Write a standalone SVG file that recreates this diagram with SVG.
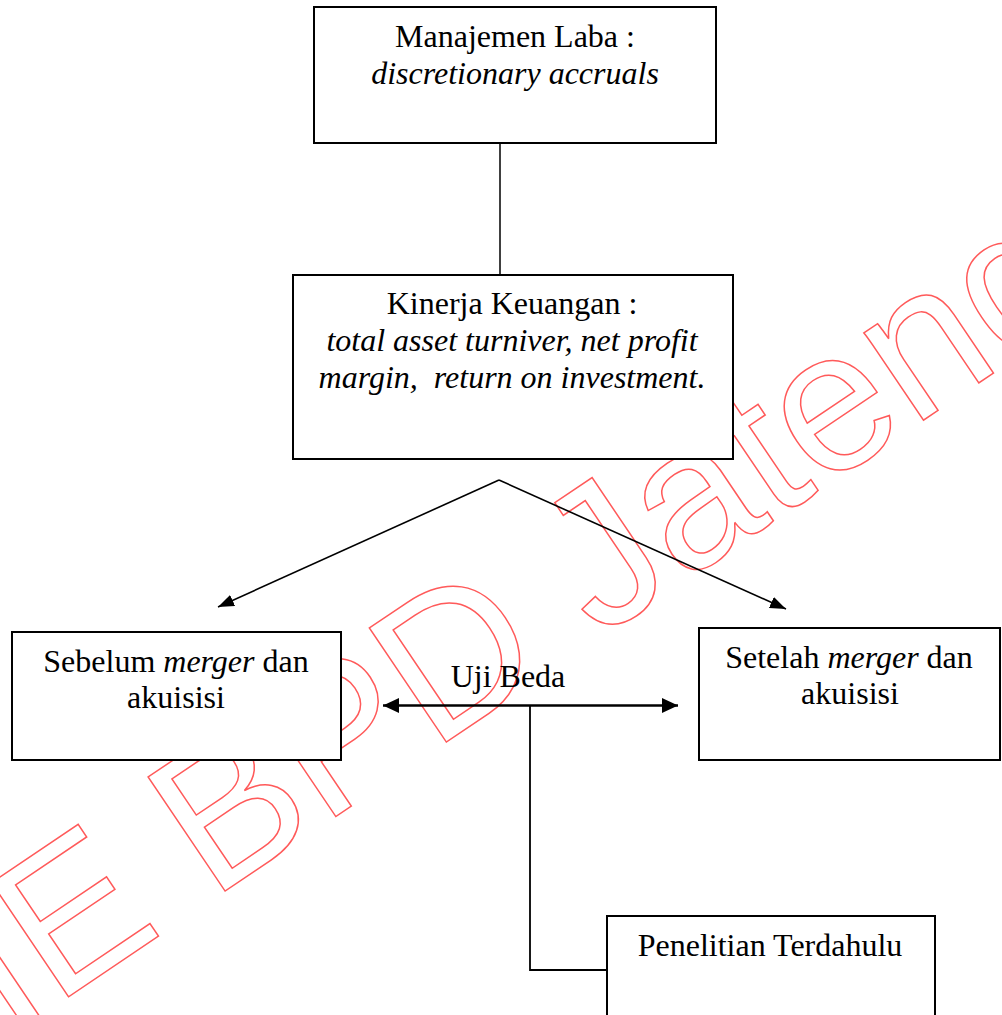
<svg xmlns="http://www.w3.org/2000/svg" width="1002" height="1015" viewBox="0 0 1002 1015">
  <style>
    .box { fill: #ffffff; stroke: #000000; stroke-width: 2; }
    .t { font-family: "Liberation Serif", "Times New Roman", serif; font-size: 32px; fill: #000000; text-anchor: middle; }
    .i { font-style: italic; }
    .ln { fill: none; stroke: #000000; }
    .wm { font-family: "Liberation Sans", Arial, sans-serif; font-size: 200px; fill: none; stroke: #ff5a5a; stroke-width: 1.5; }
  </style>
  <defs>
    <marker id="ah" markerUnits="userSpaceOnUse" markerWidth="16" markerHeight="12" refX="16" refY="6" orient="auto-start-reverse" viewBox="0 0 16 12">
      <path d="M0,0 L16,6 L0,12 z" fill="#000000"/>
    </marker>
    <marker id="ah2" markerUnits="userSpaceOnUse" markerWidth="16" markerHeight="15" refX="16" refY="7.5" orient="auto-start-reverse" viewBox="0 0 16 15">
      <path d="M0,0 L16,7.5 L0,15 z" fill="#000000"/>
    </marker>
  </defs>
  <rect x="0" y="0" width="1002" height="1015" fill="#ffffff"/>

  <g id="watermark">
    <text class="wm" transform="translate(-203,1180) rotate(-34)">STIE BPD Jateng</text>
  </g>

  <g id="node-manajemen-laba">
    <rect class="box" x="314" y="7" width="402" height="136"/>
    <text class="t" x="515" y="47">Manajemen Laba :</text>
    <text class="t i" x="515" y="84">discretionary accruals</text>
  </g>

  <g id="node-kinerja-keuangan">
    <rect class="box" x="293" y="275" width="440" height="184"/>
    <text class="t" x="512" y="314">Kinerja Keuangan :</text>
    <text class="t i" x="512" y="351">total asset turniver, net profit</text>
    <text class="t i" x="512" y="388" style="white-space:pre">margin,  return on investment.</text>
  </g>

  <g id="node-sebelum">
    <rect class="box" x="12" y="632" width="329" height="128"/>
    <text class="t" x="176" y="672">Sebelum <tspan class="i">merger</tspan> dan</text>
    <text class="t" x="176" y="708">akuisisi</text>
  </g>

  <g id="node-setelah">
    <rect class="box" x="699" y="628" width="301" height="132"/>
    <text class="t" x="849" y="668">Setelah <tspan class="i">merger</tspan> dan</text>
    <text class="t" x="850" y="704">akuisisi</text>
  </g>

  <g id="node-penelitian">
    <rect class="box" x="607" y="916" width="328" height="120"/>
    <text class="t" x="770" y="956">Penelitian Terdahulu</text>
  </g>

  <g id="label-uji-beda">
    <text class="t" x="508" y="687">Uji Beda</text>
  </g>

  <g id="connectors">
    <line class="ln" x1="500" y1="143" x2="500" y2="275" stroke-width="1.5"/>
    <line class="ln" x1="499" y1="480" x2="218" y2="607" stroke-width="1.6" marker-end="url(#ah)"/>
    <line class="ln" x1="499" y1="480" x2="786" y2="609" stroke-width="1.6" marker-end="url(#ah)"/>
    <line class="ln" x1="383" y1="705.5" x2="678" y2="705.5" stroke-width="2.5" marker-start="url(#ah2)" marker-end="url(#ah2)"/>
    <polyline class="ln" points="530,705.5 530,970 607,970" stroke-width="1.8"/>
  </g>
</svg>
